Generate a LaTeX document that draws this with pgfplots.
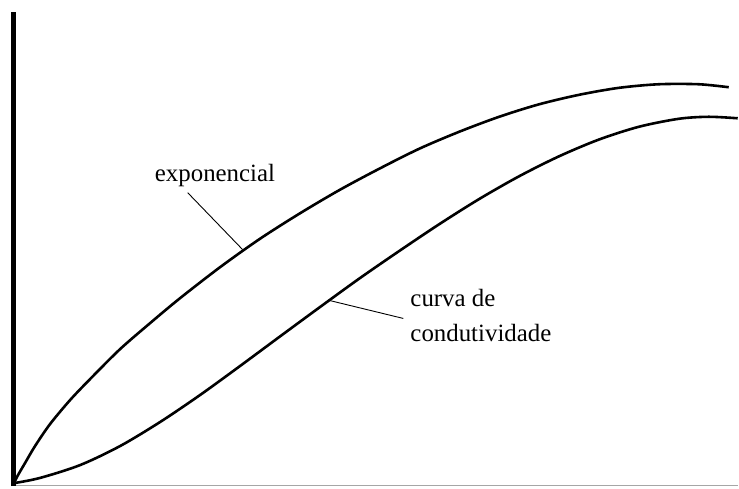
\documentclass[border=0pt]{standalone}
\usepackage{fontspec}
\setmainfont{Liberation Serif}
\usepackage{pgfplots}
\pgfplotsset{compat=1.18}
\begin{document}
\begin{tikzpicture}
\begin{axis}[
  scale only axis, width=739bp, height=487bp,
  xmin=0, xmax=739, ymin=0, ymax=487,
  hide axis, clip=false,
]
\path (axis cs:0,0) rectangle (axis cs:739,487);
% axes
\draw[gray!70, line width=1bp] (axis cs:13,1) -- (axis cs:739,1);
\draw[black, line width=4.5bp] (axis cs:13.5,0) -- (axis cs:13.5,475);
% exponencial
\addplot[black, line width=2.6bp, smooth, tension=0.5] coordinates {
(14,3) (18,11) (25,23) (35,40) (50,62) (70,86) (90,107) (120,137) (150,163) (180,188)
(220,219) (260,247.5) (300,273) (340,296.6) (380,318) (420,338) (460,355)
(500,370) (540,382.5) (580,392) (620,399) (660,402.6) (700,402.6) (730,399.6)};
% curva de condutividade
\addplot[black, line width=2.6bp, smooth, tension=0.5] coordinates {
(14,3) (40,8.2) (80,21) (120,40) (160,64) (200,91) (240,120) (280,149.6)
(320,179) (360,208) (400,235.6) (440,262.4) (480,287.6) (520,310.4)
(560,330.4) (600,347.2) (640,360) (680,368) (710,370) (739,368.5)};
% callouts
\draw[black, line width=0.9bp] (axis cs:188,294) -- (axis cs:243,237);
\draw[black, line width=0.9bp] (axis cs:330,186) -- (axis cs:404,168);
\node[anchor=base west, inner sep=0pt, font=\fontsize{25}{28}\selectfont] at (axis cs:155,305) {exponencial};
\node[anchor=base west, inner sep=0pt, font=\fontsize{25}{28}\selectfont] at (axis cs:411,180) {curva de};
\node[anchor=base west, inner sep=0pt, font=\fontsize{25}{28}\selectfont] at (axis cs:411,145) {condutividade};
\end{axis}
\end{tikzpicture}
\end{document}
